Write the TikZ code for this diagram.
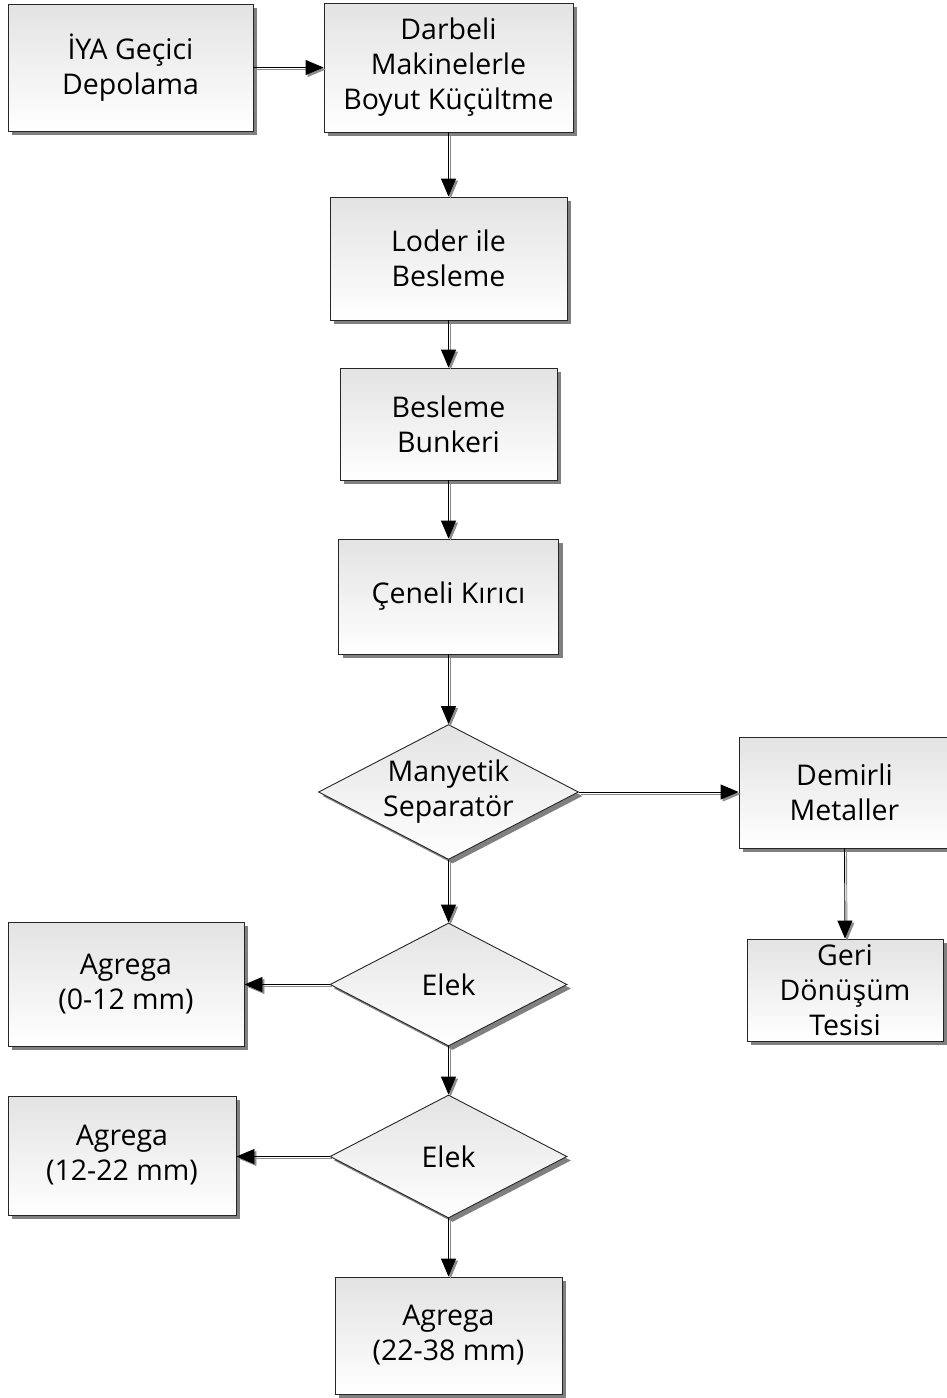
\documentclass[tikz,border=0pt]{standalone}
\usepackage{fontspec}
\setmainfont{Open Sans}
\usetikzlibrary{shapes.geometric,shadows,arrows.meta}
\begin{document}
\begin{tikzpicture}[x=1pt,y=-1pt,
  every node/.style={font=\fontsize{28.5}{35}\selectfont, align=center, text=black},
  boxsh/.style={draw=black!85, line width=0.9pt, top color=black!11, bottom color=white,
     drop shadow={shadow xshift=4pt, shadow yshift=-4pt, fill=black!50, opacity=1},
     inner sep=0pt},
  procbox/.style={boxsh, rectangle},
  decision/.style={boxsh, diamond, aspect=1},
  txt/.style={inner sep=0pt},
  flow/.style={line width=0.9pt, draw=black,
     -{Triangle[length=18pt,width=15pt]},
     preaction={draw=black!45, line width=0.9pt, -{Triangle[length=18pt,width=15pt]},
       transform canvas={shift={(2pt,-2pt)}}}}
]
\useasboundingbox (0,0) rectangle (947,1398);
\fill[white] (0,0) rectangle (947,1398);

\node[procbox, minimum width=245, minimum height=127] (b1) at (130.5,67.5) {İYA Geçici\\Depolama};
\node[procbox, minimum width=249, minimum height=129] (b2) at (448.5,67.5) {Darbeli\\Makinelerle\\Boyut Küçültme};
\node[procbox, minimum width=237, minimum height=123] (b3) at (448.5,258.5) {Loder ile\\Besleme};
\node[procbox, minimum width=217, minimum height=112] (b4) at (448.5,424) {Besleme\\Bunkeri};
\node[procbox, minimum width=220, minimum height=115] (b5) at (448.5,596.5) {Çeneli Kırıcı};

\node[decision, minimum width=260, minimum height=135] (ms) at (448.5,792) {};
\node[txt] (mst) at (ms) {Manyetik\\Separatör};

\node[procbox, minimum width=211, minimum height=111] (dm) at (844.5,792.5) {Demirli\\Metaller};
\node[procbox, minimum width=196, minimum height=102] (gd) at (845,990) {Geri\\Dönüşüm\\Tesisi};

\node[decision, minimum width=237, minimum height=123] (e1) at (448.5,984.5) {};
\node[txt] (e1t) at (e1) {Elek};
\node[procbox, minimum width=236, minimum height=124] (a1) at (126,984) {Agrega\\(0-12 mm)};

\node[decision, minimum width=237, minimum height=123] (e2) at (448.5,1156.5) {};
\node[txt] (e2t) at (e2) {Elek};
\node[procbox, minimum width=228, minimum height=119] (a2) at (122,1155.5) {Agrega\\(12-22 mm)};

\node[procbox, minimum width=227, minimum height=117] (a3) at (448.5,1335.5) {Agrega\\(22-38 mm)};

\draw[flow] (b1.east) -- (b2.west);
\draw[flow] (b2.south) -- (b3.north);
\draw[flow] (b3.south) -- (b4.north);
\draw[flow] (b4.south) -- (b5.north);
\draw[flow] (b5.south) -- (ms.north);
\draw[flow] (ms.east) -- (ms.east -| dm.west);
\draw[flow] (dm.south) -- (gd.north);
\draw[flow] (ms.south) -- (e1.north);
\draw[flow] (e1.west) -- (e1.west -| a1.east);
\draw[flow] (e1.south) -- (e2.north);
\draw[flow] (e2.west) -- (e2.west -| a2.east);
\draw[flow] (e2.south) -- (a3.north);
\end{tikzpicture}
\end{document}
